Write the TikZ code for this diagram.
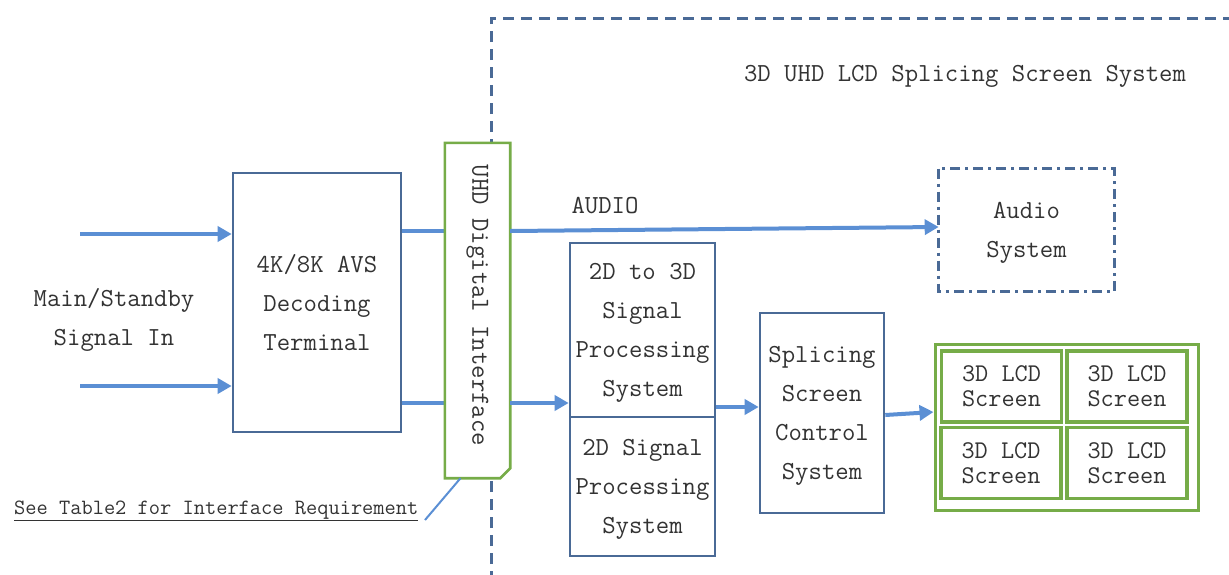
\documentclass[tikz,border=0pt]{standalone}
\usepackage{fontspec}
\setmonofont{Latin Modern Mono}
\usetikzlibrary{arrows.meta}
\definecolor{arrowblue}{HTML}{5B8FD4}
\definecolor{boxblue}{HTML}{4A6A96}
\definecolor{framegreen}{HTML}{76AC48}
\definecolor{txt}{HTML}{333333}
\tikzset{
  blk/.style={draw=boxblue, line width=2.6pt, fill=white, text=txt, align=center, inner sep=0pt},
  cell/.style={draw=framegreen, line width=3.2pt, fill=white, text=txt, align=center, inner sep=0pt,
               minimum width=120pt, minimum height=71pt, font=\ttfamily\fontsize{25.5}{25}\selectfont},
  flow/.style={draw=arrowblue, line width=4pt, -{Triangle[length=14pt,width=15pt]}},
  link/.style={draw=arrowblue, line width=4pt},
  lbl/.style={text=txt, align=center, inner sep=0pt}
}
\begin{document}
\begin{tikzpicture}[x=1pt,y=-1pt, font=\ttfamily\fontsize{26}{39}\selectfont]
\useasboundingbox (0,0) rectangle (1229,574);
\clip (0,0) rectangle (1229,574);
% outer system frame
\draw[boxblue, line width=3pt, dash pattern=on 11pt off 7pt] (491,600) -- (491,18) -- (1260,18);
\node[lbl] (title) at (965,76) {3D UHD LCD Splicing Screen System};
% input
\node[lbl] (sigin) at (114,320) {Main/Standby\\Signal In};
\coordinate (in1) at (80,234);
\coordinate (in2) at (80,386);
\node[blk, minimum width=168pt, minimum height=259pt, text depth=-6pt] (dec) at (317,302.5) {4K/8K AVS\\Decoding\\Terminal};
\draw[flow] (in1) -- (in1 -| dec.west);
\draw[flow] (in2) -- (in2 -| dec.west);
% interface
\node[inner sep=0pt, minimum width=65pt, minimum height=335pt] (iface) at (477.5,310.5) {};
\draw[link] (dec.east |- 0,231) -- (iface.west |- 0,231);
\draw[link] (dec.east |- 0,403) -- (iface.west |- 0,403);
\draw[framegreen, line width=2.6pt, fill=white] (iface.north west) -- (iface.north east) -- ([yshift=10pt]iface.south east) -- ([xshift=-10pt]iface.south east) -- (iface.south west) -- cycle;
\node[lbl, rotate=-90] at ([yshift=5pt]iface.center) {UHD Digital Interface};
% audio
\node[blk, draw=none, minimum width=173pt, minimum height=120pt, text depth=-6pt] (audio) at (1026.5,230) {Audio\\System};
\draw[boxblue, line width=3pt, dash pattern=on 10pt off 5pt on 3pt off 5pt] (audio.north west) rectangle (audio.south east);
\draw[flow] (iface.east |- 0,231) -- ([yshift=3pt]audio.west);
\node[lbl] (audiolbl) at (605,206) {AUDIO};
% processing
\node[blk, minimum width=145pt, minimum height=174pt, text depth=-6pt] (p3d) at (642.5,330) {2D to 3D\\Signal\\Processing\\System};
\node[blk, minimum width=145pt, minimum height=139pt, text depth=-6pt] (p2d) at (642.5,486.5) {2D Signal\\Processing\\System};
\draw[flow] (iface.east |- 0,403) -- (p3d.west |- 0,403);
\node[blk, minimum width=124pt, minimum height=200pt, text depth=-6pt] (splice) at (822,413) {Splicing\\Screen\\Control\\System};
\draw[flow] (p3d.east |- 0,407) -- (splice.west |- 0,407);
% screens
\node[draw=framegreen, line width=3pt, minimum width=263pt, minimum height=166pt, inner sep=0pt] (wall) at (1066.5,427) {};
\draw[flow] (splice.east |- 0,415) -- ([yshift=15pt]wall.west);
\node[cell] (s1) at (1001.5,386.5) {3D LCD\\Screen};
\node[cell] (s2) at (1127,386.5) {3D LCD\\Screen};
\node[cell] (s3) at (1001,463) {3D LCD\\Screen};
\node[cell] (s4) at (1127,463) {3D LCD\\Screen};
% note
\node[lbl, anchor=west, font=\ttfamily\fontsize{21.8}{21.8}\selectfont] (note) at (14,511) {\underline{See Table2 for Interface Requirement}};
\coordinate (notetip) at (425,520);
\draw[arrowblue, line width=2pt] (notetip) -- ([xshift=-17pt]iface.south);
\end{tikzpicture}
\end{document}
